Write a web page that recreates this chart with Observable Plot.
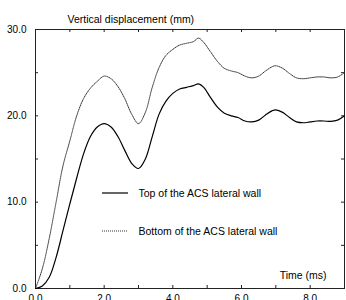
<!DOCTYPE html>
<html>
<head>
<meta charset="utf-8">
<script src="https://cdn.jsdelivr.net/npm/d3@7"></script>
<script src="https://cdn.jsdelivr.net/npm/@observablehq/plot@0.6"></script>
<style>
  html, body { margin: 0; padding: 0; background: #fff; }
  svg { display: block; }
</style>
</head>
<body>
<div id="chart"></div>
<script>
const timeMs = [0, 0.2, 0.4, 0.6, 0.8, 1.0, 1.2, 1.4, 1.6, 1.8, 2.0, 2.2, 2.4, 2.6, 2.8, 3.0,
  3.2, 3.4, 3.6, 3.8, 4.0, 4.2, 4.4, 4.6, 4.75, 4.9, 5.1, 5.3, 5.5, 5.7, 5.9, 6.1, 6.3, 6.5,
  6.7, 6.9, 7.0, 7.2, 7.4, 7.6, 7.8, 8.0, 8.2, 8.4, 8.6, 8.8, 9.0];
const topWall = [0, 0.3, 1.3, 3.6, 6.7, 9.8, 12.8, 15.6, 17.6, 18.7, 19.1, 18.7, 17.6, 16.0, 14.5, 13.9,
  15.0, 17.6, 20.2, 21.7, 22.6, 23.1, 23.3, 23.5, 23.7, 23.3, 22.1, 21.0, 20.3, 20.0, 19.8, 19.4, 19.3, 19.5,
  20.1, 20.6, 20.7, 20.4, 19.8, 19.3, 19.2, 19.3, 19.4, 19.4, 19.35, 19.5, 20.0];
const bottomWall = [0, 2.3, 5.8, 10.0, 14.2, 17.1, 20.0, 22.0, 23.2, 24.0, 24.6, 24.3, 23.4, 22.0, 20.2, 19.1,
  20.4, 23.3, 25.6, 27.0, 27.7, 28.2, 28.4, 28.6, 29.0, 28.5, 27.4, 26.3, 25.5, 25.2, 25.0, 24.6, 24.4, 24.6,
  25.2, 25.7, 25.8, 25.5, 24.9, 24.4, 24.3, 24.4, 24.5, 24.5, 24.4, 24.5, 25.0];
const seriesNames = ["Top of the ACS lateral wall", "Bottom of the ACS lateral wall"];
const xTickLabels = [0, 2, 4, 6, 8];
const yTickLabels = [0, 10, 20, 30];
const xMinorTicks = [1, 2, 3, 4, 5, 6, 7, 8];
const yMinorTicks = [5, 10, 15, 20, 25];
const yTitle = "Vertical displacement (mm)";
const xTitle = "Time (ms)";

const topData = timeMs.map((t, i) => ({t, v: topWall[i]}));
const bottomData = timeMs.map((t, i) => ({t, v: bottomWall[i]}));

const tickX = 3 / 34.33; // ~3px in data units
const tickY = 3 / 8.63;

const plot = Plot.plot({
  width: 346,
  height: 300,
  marginLeft: 35,
  marginRight: 2,
  marginTop: 29,
  marginBottom: 12,
  style: {fontFamily: "'Liberation Sans', Arial, sans-serif", fontSize: "10px", color: "#000", background: "#fff"},
  x: {domain: [0, 9]},
  y: {domain: [0, 30]},
  marks: [
    Plot.frame({stroke: "#222", strokeWidth: 1}),
    Plot.axisX({ticks: xTickLabels, tickFormat: d3.format(".1f"), tickSize: 0, tickPadding: 6, label: null, fontSize: 10}),
    Plot.axisY({ticks: yTickLabels, tickFormat: d3.format(".1f"), tickSize: 0, tickPadding: 9, label: null, fontSize: 10}),
    Plot.ruleX(xMinorTicks, {x: d => d, y1: 0, y2: tickY, stroke: "#222"}),
    Plot.ruleX(xMinorTicks, {x: d => d, y1: 30, y2: 30 - tickY, stroke: "#222"}),
    Plot.ruleY(yMinorTicks, {y: d => d, x1: 0, x2: tickX, stroke: "#222"}),
    Plot.ruleY(yMinorTicks, {y: d => d, x1: 9, x2: 9 - tickX, stroke: "#222"}),
    Plot.line(bottomData, {x: "t", y: "v", stroke: "#333", strokeWidth: 1, strokeDasharray: "1,1", curve: "catmull-rom"}),
    Plot.line(topData, {x: "t", y: "v", stroke: "#000", strokeWidth: 1.2, curve: "catmull-rom"}),
    Plot.text([yTitle], {text: d => d, frameAnchor: "top-left", dx: 32, dy: -7, textAnchor: "start", lineAnchor: "bottom", fontSize: 10.5, fill: "#000"}),
    Plot.text([xTitle], {text: d => d, frameAnchor: "bottom-right", dx: -18, dy: -10, textAnchor: "end", lineAnchor: "bottom", fontSize: 10.5, fill: "#000"}),
    Plot.text([seriesNames[0]], {text: d => d, frameAnchor: "top-left", dx: 103, dy: 164, textAnchor: "start", lineAnchor: "middle", fontSize: 10.5, fill: "#000"}),
    Plot.text([seriesNames[1]], {text: d => d, frameAnchor: "top-left", dx: 103, dy: 202, textAnchor: "start", lineAnchor: "middle", fontSize: 10.5, fill: "#000"})
  ]
});

// legend swatches
const svg = d3.select(plot);
svg.append("line").attr("x1", 102).attr("x2", 128).attr("y1", 193).attr("y2", 193)
  .attr("stroke", "#000").attr("stroke-width", 1.2);
svg.append("line").attr("x1", 102).attr("x2", 128).attr("y1", 231).attr("y2", 231)
  .attr("stroke", "#333").attr("stroke-width", 1).attr("stroke-dasharray", "1,1");

document.getElementById("chart").appendChild(plot);
</script>
</body>
</html>
